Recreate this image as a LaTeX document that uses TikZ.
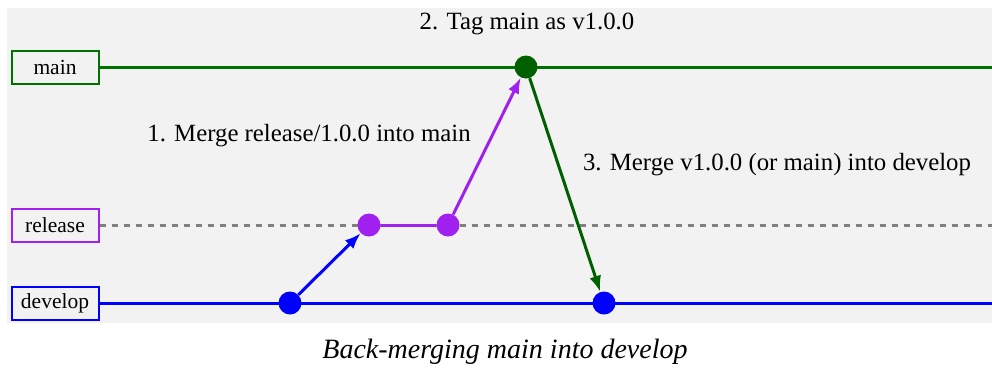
\documentclass[tikz,border=0pt]{standalone}
\usepackage{fontspec}
\setmainfont{Liberation Serif}
\usetikzlibrary{arrows.meta}
\definecolor{bggray}{RGB}{242,242,242}
\definecolor{maingreen}{RGB}{0,112,0}
\definecolor{commitgreen}{RGB}{0,96,0}
\definecolor{relpurple}{RGB}{160,32,240}
\definecolor{devblue}{RGB}{0,0,255}
\tikzset{
  branchlabel/.style={
    draw,
    line width=2pt,
    fill=bggray,
    minimum width=87pt,
    minimum height=33pt,
    inner sep=0pt,
    font=\fontsize{21.5}{24}\selectfont
  },
  commit/.style={
    circle,
    minimum size=23pt,
    inner sep=0pt
  },
  branchline/.style={line width=3pt},
  merge/.style={
    line width=3pt,
    -{Latex[length=16pt,width=12pt]}
  },
  steptext/.style={font=\fontsize{24.8}{28}\selectfont}
}

\begin{document}
\begin{tikzpicture}[x=1pt,y=-1pt]
  \useasboundingbox (0,0) rectangle (992,368);
  \fill[bggray] (7,8) rectangle (992,323);

  % branches
  \node[branchlabel, draw=maingreen] (mainlbl) at (55,67) {main};
  \node[branchlabel, draw=relpurple] (rellbl) at (55,225) {release};
  \node[branchlabel, draw=devblue] (devlbl) at (55,303) {develop};
  \coordinate (mainend) at (992,67);
  \coordinate (relend) at (992,225);
  \coordinate (devend) at (992,303);
  \draw[branchline, maingreen] (mainlbl.east) -- (mainend);
  \draw[branchline, gray, dash pattern=on 6pt off 6pt] (rellbl.east) -- (relend);
  \draw[branchline, devblue] (devlbl.east) -- (devend);

  % commits
  \node[commit, fill=devblue] (dev1) at (290,303) {};
  \node[commit, fill=relpurple] (rel1) at (369,225) {};
  \node[commit, fill=relpurple] (rel2) at (448,225) {};
  \node[commit, fill=commitgreen] (tag) at (526,67) {};
  \node[commit, fill=devblue] (dev2) at (604,303) {};

  \draw[branchline, relpurple] (rel1) -- (rel2);
  \draw[merge, devblue] (dev1) -- (rel1);
  \draw[merge, relpurple] (rel2) -- (tag);
  \draw[merge, commitgreen] (tag) -- (dev2);

  % steps
  \node[steptext] (step1) at (309,136) {1. Merge release/1.0.0 into main};
  \node[steptext] (step2) at (527,24) {2. Tag main as v1.0.0};
  \node[steptext] (step3) at (777,165) {3. Merge v1.0.0 (or main) into develop};

  \node[font=\fontsize{28}{32}\selectfont\itshape] (caption) at (505,352) {Back-merging main into develop};
\end{tikzpicture}
\end{document}
